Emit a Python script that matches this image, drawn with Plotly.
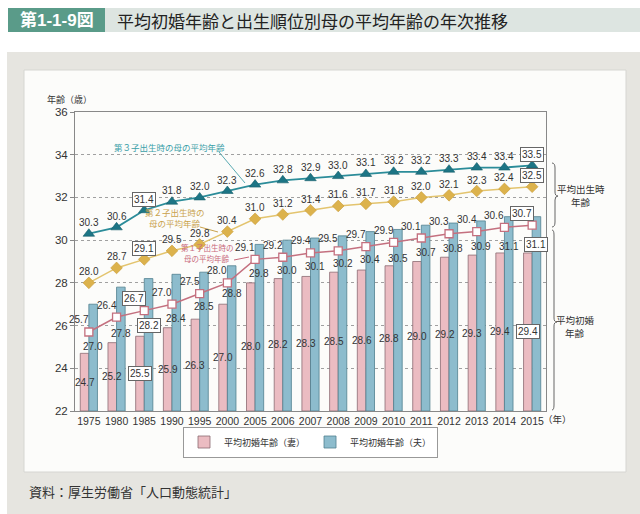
import plotly.graph_objects as go

# ---------------- data ----------------
years = ["1975", "1980", "1985", "1990", "1995", "2000", "2005", "2006", "2007",
         "2008", "2009", "2010", "2011", "2012", "2013", "2014", "2015"]
wife_first_marriage = [24.7, 25.2, 25.5, 25.9, 26.3, 27.0, 28.0, 28.2, 28.3,
                       28.5, 28.6, 28.8, 29.0, 29.2, 29.3, 29.4, 29.4]
husband_first_marriage = [27.0, 27.8, 28.2, 28.4, 28.5, 28.8, 29.8, 30.0, 30.1,
                          30.2, 30.4, 30.5, 30.7, 30.8, 30.9, 31.1, 31.1]
mother_first_child = [25.7, 26.4, 26.7, 27.0, 27.5, 28.0, 29.1, 29.2, 29.4,
                      29.5, 29.7, 29.9, 30.1, 30.3, 30.4, 30.6, 30.7]
mother_second_child = [28.0, 28.7, 29.1, 29.5, 29.8, 30.4, 31.0, 31.2, 31.4,
                       31.6, 31.7, 31.8, 32.0, 32.1, 32.3, 32.4, 32.5]
mother_third_child = [30.3, 30.6, 31.4, 31.8, 32.0, 32.3, 32.6, 32.8, 32.9,
                      33.0, 33.1, 33.2, 33.2, 33.3, 33.4, 33.4, 33.5]
boxed_years = ["1985", "2015"]

# label placement (value units below the bar top) for husband bar labels
husband_label_drop = [2.0, 2.15, 2.2, 2.05, 1.6, 1.3, 1.35, 1.4, 1.35,
                      1.3, 1.3, 1.35, 1.3, 1.2, 1.2, 1.4, 1.3]

FONT = "Liberation Sans, Noto Sans CJK JP, sans-serif"
JP = "Noto Sans CJK JP, Liberation Sans, sans-serif"

# plot area in pixels
L, R, T, B = 75, 546, 112, 411


def PX(x):
    return (x - L) / (R - L)


def PY(y):
    return (B - y) / (B - T)


fig = go.Figure()

fig.add_trace(go.Bar(
    x=years, y=[v - 22 for v in wife_first_marriage], base=22,
    name="平均初婚年齢（妻）",
    marker=dict(color="#ebbcc2", line=dict(color="#8c6b72", width=0.8)),
    hoverinfo="skip"))
fig.add_trace(go.Bar(
    x=years, y=[v - 22 for v in husband_first_marriage], base=22,
    name="平均初婚年齢（夫）",
    marker=dict(color="#8dbccd", line=dict(color="#50808f", width=0.8)),
    hoverinfo="skip"))

fig.add_trace(go.Scatter(
    x=years, y=mother_first_child, mode="lines+markers", showlegend=False,
    line=dict(color="#c4707f", width=1.5),
    marker=dict(symbol="square", size=8, color="white",
                line=dict(color="#c4707f", width=1.3))))
fig.add_trace(go.Scatter(
    x=years, y=mother_second_child, mode="lines+markers", showlegend=False,
    line=dict(color="#e3c46e", width=1.5),
    marker=dict(symbol="diamond", size=9, color="#dcb24c",
                line=dict(color="#c79a35", width=0.6))))
fig.add_trace(go.Scatter(
    x=years, y=mother_third_child, mode="lines+markers", showlegend=False,
    line=dict(color="#2b8c99", width=1.8),
    marker=dict(symbol="triangle-up", size=10, color="#1d7585",
                line=dict(color="#155e6a", width=0.6))))

ann = []


def val_label(i, y, text, xshift=0, yshift=0):
    boxed = years[i] in boxed_years
    d = dict(x=i, y=y, xref="x", yref="y", text=text, showarrow=False,
             xshift=xshift, yshift=yshift,
             font=dict(family=FONT, size=10, color="#333"))
    if boxed:
        d.update(bordercolor="#666", borderwidth=1, borderpad=1, bgcolor="white")
    ann.append(d)


for i, yr in enumerate(years):
    w = wife_first_marriage[i]
    h = husband_first_marriage[i]
    val_label(i, (22 + w) / 2, f"{w:.1f}", xshift=-4.3)
    val_label(i, h - husband_label_drop[i], f"{h:.1f}", xshift=4.3)
    val_label(i, mother_first_child[i], f"{mother_first_child[i]:.1f}",
              xshift=-10, yshift=12)
    val_label(i, mother_second_child[i], f"{mother_second_child[i]:.1f}",
              yshift=11)
    val_label(i, mother_third_child[i], f"{mother_third_child[i]:.1f}",
              yshift=11)


def ptext(x, y, text, size, color="#333", xanchor="center", bold=False, family=JP):
    if bold:
        text = f"<b>{text}</b>"
    ann.append(dict(x=PX(x), y=PY(y), xref="paper", yref="paper", text=text,
                    showarrow=False, xanchor=xanchor, yanchor="middle",
                    font=dict(family=family, size=size, color=color)))


# titles and other text
ptext(56.5, 20, "第1-1-9図", 17, color="white", bold=True, family=FONT)
ptext(115, 20, "平均初婚年齢と出生順位別母の平均年齢の年次推移", 17,
      color="#222", xanchor="left")
ptext(45, 99, "年齢（歳）", 9, xanchor="left")
ptext(541, 419, "（年）", 9.5, xanchor="left")
ptext(27, 491, "資料：厚生労働省「人口動態統計」", 13, xanchor="left")
ptext(581, 189, "平均出生時", 9.5)
ptext(581, 202, "年齢", 9.5)
ptext(575, 320, "平均初婚", 9.5)
ptext(575, 333, "年齢", 9.5)
ptext(169, 147, "第３子出生時の母の平均年齢", 8.5, color="#3aa0a8")
ptext(175, 212, "第２子出生時の", 8.5, color="#c9a24c")
ptext(175, 223, "母の平均年齢", 8.5, color="#c9a24c")
ptext(207, 247.5, "第１子出生時の", 7.5, color="#c8687a")
ptext(207, 258, "母の平均年齢", 7.5, color="#c8687a")

shapes = []


def prect(x0, y0, x1, y1, fill, line=None):
    shapes.append(dict(type="rect", xref="paper", yref="paper",
                       x0=PX(x0), x1=PX(x1), y0=PY(y0), y1=PY(y1),
                       fillcolor=fill, layer="below",
                       line=dict(color=line or fill, width=1 if line else 0)))


def pline(x0, y0, x1, y1, color):
    shapes.append(dict(type="line", xref="paper", yref="paper",
                       x0=PX(x0), x1=PX(x1), y0=PY(y0), y1=PY(y1),
                       line=dict(color=color, width=1)))


def brace(xe, xt, y0, ym, y1, color="#666"):
    pts = [("M", xe, y0), ("Q", xt - 3, y0, xt - 3, y0 + 5), ("L", xt - 3, ym - 4),
           ("Q", xt - 3, ym, xt, ym), ("Q", xt - 3, ym, xt - 3, ym + 4),
           ("L", xt - 3, y1 - 5), ("Q", xt - 3, y1, xe, y1)]
    path = ""
    for p in pts:
        cmd = p[0]
        coords = p[1:]
        s = []
        for k in range(0, len(coords), 2):
            s.append(f"{PX(coords[k]):.5f},{PY(coords[k + 1]):.5f}")
        path += cmd + " " + " ".join(s) + " "
    shapes.append(dict(type="path", xref="paper", yref="paper", path=path,
                       line=dict(color=color, width=1)))


prect(7, 52, 640, 514, "#e6e5e0")
prect(24, 70, 626, 472, "#fcfcfa", line="#d6d6d2")
prect(8, 8, 640, 32, "#dde5e1")
prect(8, 8, 105, 32, "#5a9b89")

pline(219, 152, 245, 183, "#5aaab2")
pline(200, 227, 218, 232, "#c9a24c")
pline(234, 260, 249, 257, "#c8687a")

brace(552, 558, 163, 196, 227)
brace(552, 557, 230, 322, 410)

fig.update_layout(
    width=640, height=514,
    margin=dict(l=L, r=640 - R, t=T, b=514 - B, pad=0),
    paper_bgcolor="white", plot_bgcolor="#fcfcfa",
    barmode="group", bargap=0.38, bargroupgap=0,
    font=dict(family=FONT, size=10, color="#333"),
    showlegend=True,
    legend=dict(orientation="h", x=PX(310.5), y=PY(442), xanchor="center",
                yanchor="middle", bgcolor="white", bordercolor="#999",
                borderwidth=1, font=dict(family=JP, size=9, color="#333"),
                itemwidth=30, tracegroupgap=0),
    annotations=ann, shapes=shapes,
)
fig.update_xaxes(type="category", range=[-0.5, 16.5], showline=True, mirror=True,
                 linecolor="#888", linewidth=1, ticks="", showgrid=False,
                 tickfont=dict(family=FONT, size=10.5, color="#333"))
fig.update_yaxes(range=[22, 36], dtick=2, showline=True, mirror=True,
                 linecolor="#888", linewidth=1, ticks="outside", ticklen=4,
                 tickcolor="#888", showgrid=True, gridcolor="#a0a0a0",
                 griddash="dot", gridwidth=1, zeroline=False,
                 tickfont=dict(family=FONT, size=11.5, color="#333"))

fig.write_html("out.html", config={"displayModeBar": False},
               post_script="document.body.style.margin='0';document.body.style.overflow='hidden';")
